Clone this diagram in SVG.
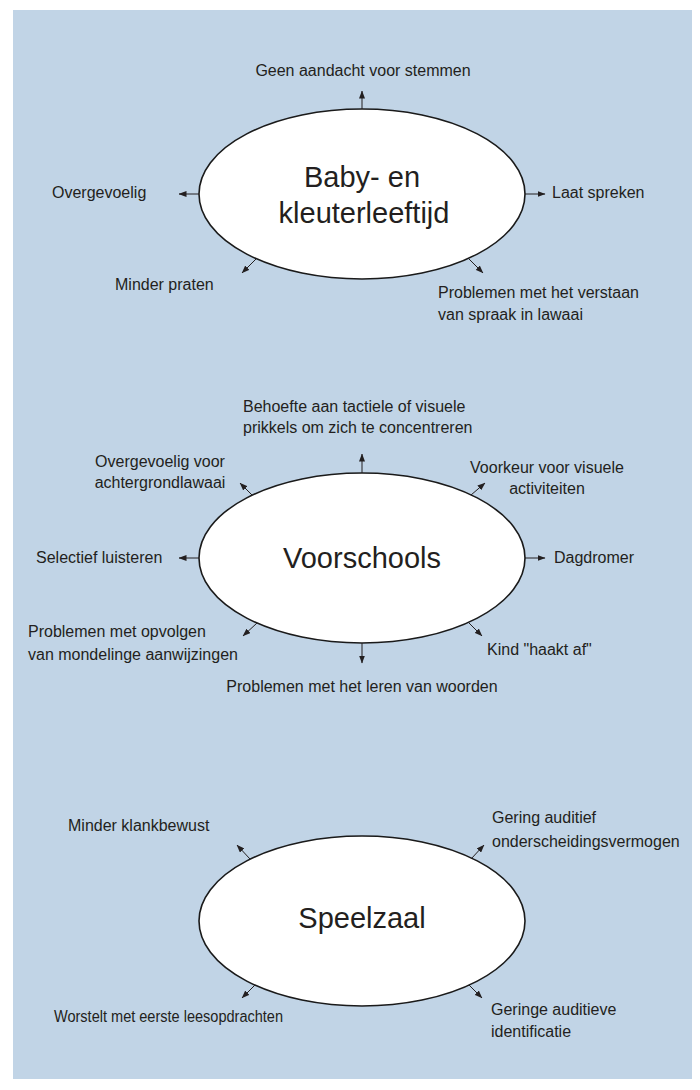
<svg xmlns="http://www.w3.org/2000/svg" width="700" height="1090" viewBox="0 0 700 1090">
<defs>
<style>
.bg{fill:#c1d4e6}
.node ellipse{fill:#fff;stroke:#1a1a1a;stroke-width:1.6}
.title{font-family:"Liberation Sans",Arial,sans-serif;font-size:29px;fill:#231f20;text-anchor:middle}
.lbl{font-family:"Liberation Sans",Arial,sans-serif;font-size:16px;fill:#231f20}
.mid{text-anchor:middle}
.conn line{stroke:#231f20;stroke-width:1;marker-end:url(#ah)}
</style>
<marker id="ah" viewBox="0 0 8 6" refX="7.5" refY="3" markerWidth="8" markerHeight="6" markerUnits="userSpaceOnUse" orient="auto">
<path d="M0,0 L8,3 L0,6 z" fill="#231f20"/>
</marker>
</defs>
<rect class="bg" x="13" y="10" width="679" height="1069"/>

<g id="node-baby" class="node">
<ellipse cx="362" cy="194" rx="163" ry="85"/>
<text class="title" x="362" y="187">Baby- en</text>
<text class="title" x="364" y="223">kleuterleeftijd</text>
</g>
<g id="node-voorschools" class="node">
<ellipse cx="362" cy="558" rx="163" ry="85"/>
<text class="title" x="362" y="568">Voorschools</text>
</g>
<g id="node-speelzaal" class="node">
<ellipse cx="362" cy="921" rx="163" ry="85"/>
<text class="title" x="362" y="928">Speelzaal</text>
</g>

<g id="connectors" class="conn">
<line x1="362" y1="109" x2="362" y2="91"/>
<line x1="199" y1="194" x2="179" y2="194"/>
<line x1="525" y1="194" x2="545" y2="194"/>
<line x1="256" y1="259" x2="242" y2="273"/>
<line x1="469" y1="259" x2="483" y2="273"/>

<line x1="362" y1="473" x2="362" y2="454"/>
<line x1="252" y1="495" x2="240" y2="483"/>
<line x1="471" y1="495" x2="485" y2="483"/>
<line x1="199" y1="558" x2="179" y2="558"/>
<line x1="525" y1="558" x2="545" y2="558"/>
<line x1="257" y1="623" x2="243" y2="636"/>
<line x1="469" y1="623" x2="482" y2="636"/>
<line x1="362" y1="643" x2="362" y2="663"/>

<line x1="250" y1="859" x2="237" y2="845"/>
<line x1="471" y1="859" x2="484" y2="845"/>
<line x1="255" y1="985" x2="242" y2="998"/>
<line x1="469" y1="985" x2="482" y2="998"/>
</g>

<g id="labels-baby">
<text class="lbl mid" x="363" y="76">Geen aandacht voor stemmen</text>
<text class="lbl" x="52" y="198">Overgevoelig</text>
<text class="lbl" x="552" y="198">Laat spreken</text>
<text class="lbl" x="115" y="290">Minder praten</text>
<text class="lbl" x="438" y="298">Problemen met het verstaan</text>
<text class="lbl" x="438" y="320">van spraak in lawaai</text>
</g>
<g id="labels-voorschools">
<text class="lbl" x="243" y="412">Behoefte aan tactiele of visuele</text>
<text class="lbl" x="243" y="433">prikkels om zich te concentreren</text>
<text class="lbl mid" x="160" y="467">Overgevoelig voor</text>
<text class="lbl mid" x="160" y="488">achtergrondlawaai</text>
<text class="lbl mid" x="547" y="473">Voorkeur voor visuele</text>
<text class="lbl mid" x="547" y="494">activiteiten</text>
<text class="lbl" x="36" y="563">Selectief luisteren</text>
<text class="lbl" x="554" y="563">Dagdromer</text>
<text class="lbl" x="28" y="637">Problemen met opvolgen</text>
<text class="lbl" x="28" y="660">van mondelinge aanwijzingen</text>
<text class="lbl" x="487" y="655">Kind "haakt af"</text>
<text class="lbl mid" x="362" y="692">Problemen met het leren van woorden</text>
</g>
<g id="labels-speelzaal">
<text class="lbl" x="68" y="831">Minder klankbewust</text>
<text class="lbl" x="492" y="823">Gering auditief</text>
<text class="lbl" x="492" y="847">onderscheidingsvermogen</text>
<text class="lbl" x="54" y="1022" textLength="229" lengthAdjust="spacingAndGlyphs">Worstelt met eerste leesopdrachten</text>
<text class="lbl" x="491" y="1015">Geringe auditieve</text>
<text class="lbl" x="491" y="1037">identificatie</text>
</g>
</svg>
